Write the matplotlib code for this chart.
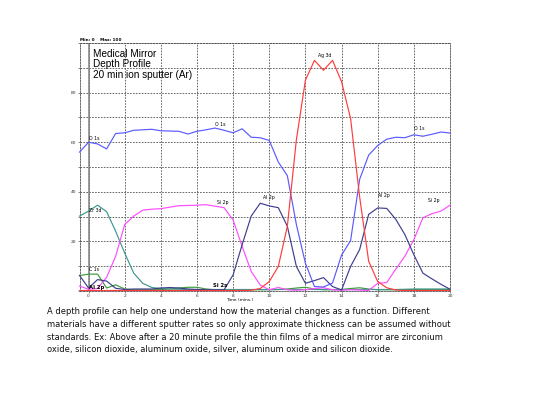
"""Medical mirror XPS depth profile, redrawn with matplotlib."""

import matplotlib
matplotlib.use("Agg")
import matplotlib.pyplot as plt
from matplotlib.ticker import FixedLocator, FixedFormatter

# sputter time, minutes (one acquisition every half minute)
TIME = [-0.5, 0.0, 0.5, 1.0, 1.5, 2.0, 2.5, 3.0, 3.5, 4.0, 4.5, 5.0, 5.5, 6.0,
        6.5, 7.0, 7.5, 8.0, 8.5, 9.0, 9.5, 10.0, 10.5, 11.0, 11.5, 12.0, 12.5,
        13.0, 13.5, 14.0, 14.5, 15.0, 15.5, 16.0, 16.5, 17.0, 17.5, 18.0, 18.5,
        19.0, 19.5, 20.0]

# atomic percent
O_1S = [56.0, 60.0, 59.3, 57.3, 63.5, 63.8, 64.8, 65.0, 65.2, 64.6, 64.5, 64.4,
        63.3, 64.4, 65.0, 65.7, 64.8, 63.8, 65.4, 62.0, 61.8, 60.7, 52.0, 46.5,
        26.8, 11.2, 1.8, 1.6, 3.2, 14.5, 20.3, 45.0, 54.8, 58.7, 61.2, 62.0,
        61.8, 63.0, 62.4, 63.2, 64.1, 63.7]
AG_3D = [0.2, 0.2, 0.2, 0.2, 0.2, 0.2, 0.2, 0.2, 0.2, 0.2, 0.2, 0.2, 0.2, 0.2,
         0.2, 0.2, 0.2, 0.2, 0.2, 0.3, 1.0, 3.8, 9.9, 26.1, 61.0, 85.0, 93.0,
         89.0, 93.0, 84.4, 69.5, 38.0, 12.0, 3.8, 1.3, 0.4, 0.2, 0.2, 0.2, 0.2,
         0.2, 0.2]
SI_2P = [2.0, 0.7, 1.0, 5.5, 14.0, 26.8, 30.2, 32.6, 33.0, 33.2, 33.8, 34.4,
         34.5, 34.6, 34.8, 34.2, 33.6, 28.6, 18.0, 7.9, 2.4, 0.5, 1.4, 0.5, 0.3,
         0.5, 1.0, 1.3, 0.5, 0.3, 0.5, 0.4, 0.2, 3.1, 3.4, 8.8, 14.0, 20.7, 29.5,
         31.2, 32.2, 34.6]
AL_2P = [6.3, 1.2, 4.6, 4.0, 1.1, 0.6, 0.8, 0.8, 0.8, 1.2, 1.4, 1.2, 0.8, 0.6,
         0.5, 0.5, 0.5, 6.5, 18.7, 30.2, 35.4, 34.3, 33.6, 26.1, 9.9, 3.1, 4.2,
         5.4, 1.8, 0.4, 9.9, 16.7, 30.9, 33.5, 33.3, 28.9, 22.8, 14.6, 7.2, 4.9,
         2.7, 0.7]
ZR_3D = [30.2, 32.2, 34.6, 32.0, 24.1, 15.3, 7.2, 3.1, 1.4, 1.0, 0.8, 0.7, 0.6,
         0.6, 0.6, 0.6, 0.6, 0.6, 0.6, 0.6, 0.6, 0.6, 0.6, 0.6, 0.6, 0.6, 0.6,
         0.6, 0.6, 0.6, 0.6, 0.6, 0.6, 0.6, 0.6, 0.6, 0.7, 0.8, 0.8, 0.8, 0.8,
         0.8]
C_1S = [6.2, 6.8, 6.8, 1.2, 2.5, 0.8, 0.5, 0.5, 0.5, 0.6, 0.8, 1.2, 1.5, 1.5,
        0.8, 0.5, 0.5, 0.5, 0.5, 0.5, 0.5, 0.5, 0.6, 0.8, 1.2, 1.5, 0.8, 0.5,
        0.5, 0.6, 1.0, 1.3, 0.8, 0.5, 0.5, 0.5, 0.5, 0.6, 0.6, 0.6, 0.6, 0.6]

SERIES = [
    ("C 1s", C_1S, "#3c9a3c"),
    ("Zr 3d", ZR_3D, "#3d978f"),
    ("Si 2p", SI_2P, "#ff4cff"),
    ("Al 2p", AL_2P, "#3e3e8e"),
    ("O 1s", O_1S, "#5a5aff"),
    ("Ag 3d", AG_3D, "#ff3b3b"),
]

# peak labels placed on the plot as in the instrument software
LABELS = [
    ("O 1s", 0.05, 60.5), ("O 1s", 7.0, 66.0), ("O 1s", 18.0, 64.5),
    ("Ag 3d", 12.7, 94.0), ("Si 2p", 7.1, 34.5), ("Si 2p", 18.8, 35.5),
    ("Al 2p", 9.65, 36.5), ("Al 2p", 16.0, 37.5), ("Zr 3d", 0.05, 31.5),
    ("C 1s", 0.05, 7.8),
]
# crowded labels near the baseline, printed on top of each other
CLUTTER_LABELS = [("Al 2p", 0.05, 0.6), ("Si 2s", 6.9, 1.2)]

TITLE = "Medical Mirror\nDepth Profile\n20 min ion sputter (Ar)"
CAPTION = [
    "A depth profile can help one understand how the material changes as a function. Different",
    "materials have a different sputter rates so only approximate thickness can be assumed without",
    "standards. Ex: Above after a 20 minute profile the thin films of a medical mirror are zirconium",
    "oxide, silicon dioxide, aluminum oxide, silver, aluminum oxide and silicon dioxide.",
]

X_TICKS = [0, 2, 4, 6, 8, 10, 12, 14, 16, 18, 20]
Y_GRID = [0, 10, 20, 30, 40, 50, 60, 70, 80, 90, 100]
Y_LABELS = ["", "", "20", "", "40", "", "60", "", "80", "", ""]

W, H = 560, 401
fig = plt.figure(figsize=(W / 100, H / 100), dpi=100)
ax = fig.add_axes([79.5 / W, 1 - 291 / H, (450 - 79.5) / W, (291 - 43) / H])

for name, values, color in SERIES:
    ax.plot(TIME, values, color=color, lw=0.85, zorder=3, clip_on=False)

ax.set_xlim(-0.5, 20)
ax.set_ylim(0, 100)
ax.xaxis.set_major_locator(FixedLocator(X_TICKS))
ax.yaxis.set_major_locator(FixedLocator(Y_GRID))
ax.yaxis.set_major_formatter(FixedFormatter(Y_LABELS))
ax.grid(True, color="#505050", linestyle=(0, (2.0, 1.5)), lw=0.6, zorder=1)
ax.axvline(0, color="#808080", lw=1.1, zorder=2)
for side in ("left", "right", "top", "bottom"):
    ax.spines[side].set_linestyle((0, (2.0, 1.5)))
    ax.spines[side].set_linewidth(0.6)
    ax.spines[side].set_color("#505050")
ax.tick_params(length=1.5, width=0.4, labelsize=3.2, pad=1, colors="#333333")
ax.set_xlabel("Time (mins.)", fontsize=3.2, labelpad=1.5)
ax.xaxis.set_label_coords((240 - 79.5) / (450 - 79.5), -0.028)

for text, t, v in LABELS:
    ax.text(t, v, text, fontsize=3.3, ha="left", va="bottom", zorder=4)
for text, t, v in CLUTTER_LABELS:
    ax.text(t, v, text, fontsize=3.8, fontweight="bold", ha="left",
            va="bottom", zorder=4)

ax.text(0, 1.003, "Min: 0    Max: 100", transform=ax.transAxes, fontsize=3.0,
        ha="left", va="bottom", fontweight="bold")
fig.text(93 / W, 1 - 49 / H, TITLE, fontsize=7.2, ha="left", va="top",
         family="Liberation Sans", linespacing=1.05, color="#000000")

for i, line in enumerate(CAPTION):
    fig.text(47 / W, 1 - (312 + 12.6 * i) / H, line, fontsize=6.0,
             ha="left", va="center", family="DejaVu Sans", color="#111111")

fig.savefig("out.png", dpi=100)
